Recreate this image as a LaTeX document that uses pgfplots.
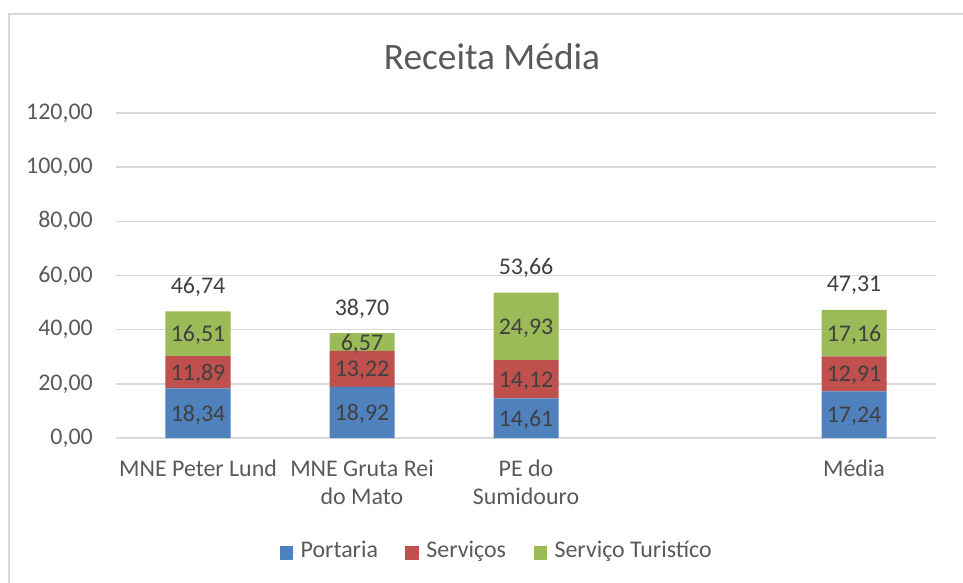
\documentclass[border=0pt]{standalone}
\usepackage{fontspec}
\setmainfont{Carlito}
\usepackage{pgfplots}
\pgfplotsset{compat=1.18}
\usepackage{pgfplotstable}
\definecolor{cblue}{HTML}{4F81BD}
\definecolor{cred}{HTML}{C0504D}
\definecolor{cgreen}{HTML}{9BBB59}
\definecolor{tgray}{HTML}{595959}
\definecolor{dgray}{HTML}{404040}
\definecolor{lgray}{HTML}{D9D9D9}

\pgfplotstableread{
x y lab
0 18.34 18,34
1 18.92 18,92
2 14.61 14,61
4 17.24 17,24
}\portaria
\pgfplotstableread{
x y lab
0 11.89 11,89
1 13.22 13,22
2 14.12 14,12
4 12.91 12,91
}\servicos
\pgfplotstableread{
x y lab
0 16.51 16,51
1 6.57 6,57
2 24.93 24,93
4 17.16 17,16
}\turistico
\pgfplotstableread{
x y lab
0 46.74 46,74
1 38.70 38,70
2 53.66 53,66
4 47.31 47,31
}\total

\newcommand{\fs}{\fontsize{24}{28}\selectfont}

\begin{document}
\begin{tikzpicture}
\useasboundingbox (-116bp,-145bp) rectangle (847bp,438bp);
\draw[lgray, line width=2bp] (848bp,424bp) -- (-107bp,424bp) -- (-107bp,-146bp);
\node[text=tgray, font=\fontsize{37.5}{44}\selectfont] at (376bp,381bp) {Receita Média};
\begin{axis}[
  at={(0,0)}, anchor=south west,
  scale only axis, width=820bp, height=325bp,
  ybar stacked, bar width=65bp,
  xmin=-0.5, xmax=4.5, ymin=0, ymax=120,
  ytick={0,20,...,120},
  xtick={0,1,2,4},
  xticklabels={MNE Peter Lund, {MNE Gruta Rei\\do Mato}, {PE do\\Sumidouro}, Média},
  axis line style={draw=none},
  major tick length=0pt,
  ymajorgrids, grid style={lgray, line width=1.5bp},
  clip=false,
  ticklabel style={font=\fs, text=tgray},
  xticklabel style={align=center, anchor=north, inner sep=0pt, yshift=-22bp},
  yticklabel style={anchor=east, inner sep=0pt, xshift=-23bp, /pgf/number format/.cd, fixed, fixed zerofill, precision=2, use comma, 1000 sep={}},
  /pgf/number format/assume math mode=true,
  point meta=explicit symbolic,
  nodes near coords={\pgfplotspointmeta},
  every node near coord/.append style={font=\fs, text=dgray, anchor=center, text depth=0pt},
  legend style={at={(0.4652,-0.3446)}, anchor=center, draw=none, legend columns=3, font=\fs, text=tgray, nodes={inner sep=3.5bp}, /tikz/every even column/.append style={column sep=24bp}},
  sq legend/.style={legend image code/.code={\fill[##1, draw=none] (0bp,-10bp) rectangle (13.5bp,3.5bp); \path (0bp,-3bp) -- (17.5bp,-3bp);}},
]
\addplot[fill=cblue, draw=none, sq legend] table[x=x, y=y, meta=lab] {\portaria};
\addplot[fill=cred, draw=none, sq legend] table[x=x, y=y, meta=lab] {\servicos};
\addplot[fill=cgreen, draw=none, sq legend] table[x=x, y=y, meta=lab] {\turistico};
\legend{Portaria, Serviços, Serviço Turistíco}
\end{axis}
\begin{axis}[
  at={(0,0)}, anchor=south west,
  scale only axis, width=820bp, height=325bp,
  xmin=-0.5, xmax=4.5, ymin=0, ymax=120,
  hide axis, clip=false,
  point meta=explicit symbolic,
]
\addplot[only marks, mark=none, nodes near coords={\pgfplotspointmeta},
  every node near coord/.style={font=\fs, text=dgray, anchor=center, text depth=0pt, yshift=26bp}]
  table[x=x, y=y, meta=lab] {\total};
\end{axis}
\end{tikzpicture}
\end{document}
